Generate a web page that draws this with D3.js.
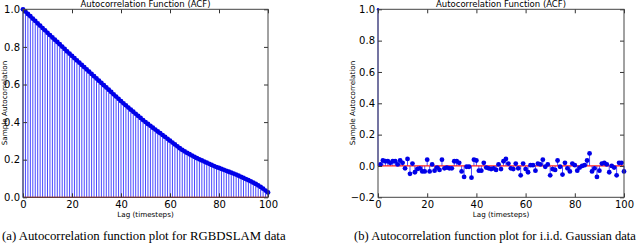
<!DOCTYPE html>
<html>
<head>
<meta charset="utf-8">
<script src="https://cdn.jsdelivr.net/npm/d3@7"></script>
<style>
  body { margin: 0; background: #fff; }
  svg { display: block; }
  .tick text { font-family: "DejaVu Sans", sans-serif; }
</style>
</head>
<body>
<div id="chart"></div>
<script>
// ACF of RGBDSLAM data, lags 0..100
var acfSlam = [
  1.000, 0.988, 0.975, 0.963, 0.950, 0.938, 0.925, 0.913, 0.900, 0.888,
  0.875, 0.863, 0.850, 0.838, 0.826, 0.814, 0.801, 0.789, 0.776, 0.764,
  0.752, 0.740, 0.728, 0.716, 0.704, 0.692, 0.680, 0.668, 0.656, 0.644,
  0.632, 0.620, 0.608, 0.596, 0.584, 0.572, 0.560, 0.548, 0.536, 0.524,
  0.512, 0.500, 0.489, 0.477, 0.466, 0.455, 0.444, 0.433, 0.422, 0.411,
  0.400, 0.390, 0.380, 0.370, 0.360, 0.350, 0.341, 0.331, 0.321, 0.311,
  0.301, 0.291, 0.281, 0.271, 0.261, 0.252, 0.244, 0.236, 0.229, 0.222,
  0.215, 0.208, 0.202, 0.196, 0.190, 0.184, 0.178, 0.172, 0.166, 0.161,
  0.156, 0.151, 0.146, 0.141, 0.136, 0.131, 0.126, 0.121, 0.115, 0.109,
  0.103, 0.097, 0.091, 0.085, 0.078, 0.071, 0.063, 0.055, 0.046, 0.036,
  0.026
];

// ACF of i.i.d. Gaussian data, lags 0..100
var acfGauss = [
  1.000, 0.010, 0.035, 0.030, 0.030, 0.020, 0.030, 0.030, 0.010, 0.035,
  0.020, -0.015, 0.045, -0.050, 0.015, -0.040, -0.020, -0.015, -0.035, -0.035,
  0.040, -0.035, 0.010, -0.030, -0.010, -0.025, 0.040, -0.015, -0.010, -0.015,
  -0.015, 0.030, 0.030, 0.020, -0.035, -0.070, -0.005, -0.005, -0.075, 0.040,
  0.035, -0.030, -0.030, 0.020, -0.010, -0.015, -0.020, -0.015, -0.025, 0.010,
  -0.020, 0.030, 0.045, 0.015, -0.015, -0.020, 0.015, -0.015, -0.060, 0.015,
  -0.020, -0.040, 0.005, 0.005, -0.030, 0.015, 0.010, 0.040, -0.005, 0.010,
  -0.060, -0.020, -0.025, 0.035, -0.005, -0.055, 0.020, -0.015, -0.035, 0.015,
  0.005, -0.030, -0.010, 0.000, 0.005, 0.035, 0.080, -0.035, -0.015, -0.070,
  -0.030, 0.015, 0.020, 0.010, -0.040, 0.000, -0.010, -0.060, 0.020, 0.020,
  -0.035
];

var xTicks = [0, 20, 40, 60, 80, 100];
var yTicksA = [0.0, 0.2, 0.4, 0.6, 0.8, 1.0];
var yTicksB = [-0.2, 0.0, 0.2, 0.4, 0.6, 0.8, 1.0];

var titleText = "Autocorrelation Function (ACF)";
var xLabel = "Lag (timesteps)";
var yLabel = "Sample Autocorrelation";
var captionA = "(a) Autocorrelation function plot for RGBDSLAM data";
var captionB = "(b) Autocorrelation function plot for i.i.d. Gaussian data";

var W = 640, H = 243;
var svg = d3.select("#chart").append("svg")
    .attr("width", W).attr("height", H);

function acfPanel(opt) {
  var x = d3.scaleLinear().domain([0, 100]).range([opt.left, opt.right]);
  var y = d3.scaleLinear().domain(opt.ydom).range([197.3, 9.3]);
  var g = svg.append("g");
  var lags = d3.range(opt.values.length);

  // stems
  g.selectAll(".stem").data(lags).enter().append("line")
      .attr("x1", function(d) { return x(d); })
      .attr("x2", function(d) { return x(d); })
      .attr("y1", y(0))
      .attr("y2", function(d) { return y(opt.values[d]); })
      .attr("stroke", "#2a2aff")
      .attr("stroke-opacity", 0.85)
      .attr("stroke-width", 1);

  // baseline
  g.append("line")
      .attr("x1", x(0)).attr("x2", x(100))
      .attr("y1", y(0)).attr("y2", y(0))
      .attr("stroke", "#ff2020").attr("stroke-width", 1.2);

  // markers
  g.selectAll(".pt").data(lags).enter().append("circle")
      .attr("cx", function(d) { return x(d); })
      .attr("cy", function(d) { return y(opt.values[d]); })
      .attr("r", function(d) { return d === 0 ? opt.r0 : 2.4; })
      .attr("fill", "#0000e8");

  // ticks (inward, all sides)
  var ax = g.append("g").attr("font-size", 7.2).attr("fill", "#000");
  ax.append("g").attr("transform", "translate(0," + y.range()[0] + ")")
      .call(d3.axisBottom(x).tickValues(xTicks).tickSize(-4).tickPadding(4).tickFormat(d3.format("d")));
  ax.append("g").attr("transform", "translate(0," + y.range()[1] + ")")
      .call(d3.axisTop(x).tickValues(xTicks).tickSize(-4).tickFormat(""));
  ax.append("g").attr("transform", "translate(" + opt.left + ",0)")
      .call(d3.axisLeft(y).tickValues(opt.yticks).tickSize(-4).tickPadding(3).tickFormat(d3.format(".1f")));
  ax.append("g").attr("transform", "translate(" + opt.right + ",0)")
      .call(d3.axisRight(y).tickValues(opt.yticks).tickSize(-4).tickFormat(""));
  ax.selectAll(".domain").remove();
  ax.selectAll(".tick line").attr("stroke", "#333");
  ax.selectAll(".tick text").text(function() {
    return d3.select(this).text().replace("-", "\u2212");
  });

  // frame
  g.append("rect")
      .attr("x", opt.left).attr("y", y.range()[1])
      .attr("width", opt.right - opt.left)
      .attr("height", y.range()[0] - y.range()[1])
      .attr("fill", "none").attr("stroke", "#444").attr("stroke-width", 1);

  var cx = (opt.left + opt.right) / 2;
  g.append("text").attr("x", cx).attr("y", 7)
      .attr("text-anchor", "middle")
      .attr("font-family", "DejaVu Sans, sans-serif").attr("font-size", 8.5)
      .text(titleText);
  g.append("text").attr("x", cx).attr("y", 217)
      .attr("text-anchor", "middle")
      .attr("font-family", "DejaVu Sans, sans-serif").attr("font-size", 7.2)
      .text(xLabel);
  g.append("text")
      .attr("transform", "translate(" + opt.ylabX + ",103) rotate(-90)")
      .attr("text-anchor", "middle")
      .attr("font-family", "DejaVu Sans, sans-serif").attr("font-size", 7.2)
      .text(yLabel);
  g.append("text").attr("x", opt.capX).attr("y", 240)
      .attr("font-family", "Liberation Serif, serif").attr("font-size", opt.capSize)
      .text(opt.caption);
}

acfPanel({ values: acfSlam, left: 23, right: 268, ydom: [0, 1], yticks: yTicksA,
           ylabX: 7, capX: 2, capSize: 12.8, r0: 2.4, caption: captionA });
acfPanel({ values: acfGauss, left: 378, right: 624, ydom: [-0.2, 1], yticks: yTicksB,
           ylabX: 355, capX: 354, capSize: 12.6, r0: 1.2, caption: captionB });
</script>
</body>
</html>
